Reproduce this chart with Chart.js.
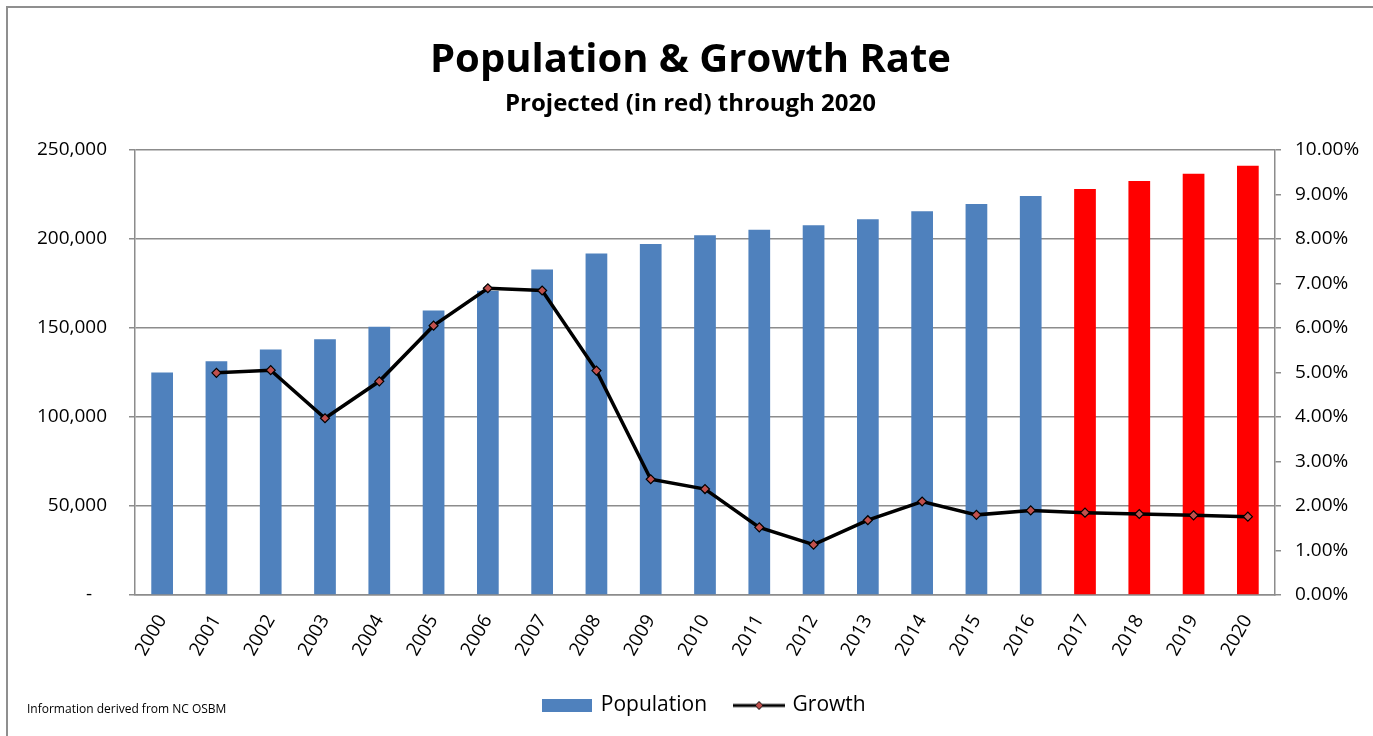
<!DOCTYPE html>
<html>
<head>
<meta charset="utf-8">
<script src="https://cdn.jsdelivr.net/npm/chart.js@4/dist/chart.umd.min.js"></script>
<style>
  html, body { margin: 0; padding: 0; background: #fff; }
  #wrap { position: relative; width: 1373px; height: 736px; overflow: hidden; }
  #frame {
    position: absolute; left: 6px; top: 6px; width: 1500px; height: 900px;
    border-top: 2px solid #8f8f8f; border-left: 2px solid #8f8f8f;
  }
  #chart { position: absolute; left: 0; top: 0; }
  #note {
    position: absolute; left: 27px; top: 700px;
    font-family: "Open Sans", sans-serif; font-size: 12px; color: #000;
  }
</style>
</head>
<body>
<div id="wrap">
  <div id="frame"></div>
  <canvas id="chart" width="1373" height="736"></canvas>
  <div id="note">Information derived from NC OSBM</div>
</div>
<script>
const years = ["2000", "2001", "2002", "2003", "2004", "2005", "2006", "2007", "2008", "2009", "2010",
  "2011", "2012", "2013", "2014", "2015", "2016", "2017", "2018", "2019", "2020"];
const population = [125000, 131200, 137900, 143600, 150700, 159700, 170800, 182800, 191800, 197100, 202000,
  205100, 207600, 211000, 215500, 219600, 224100, 228000, 232500, 236500, 241000];
const growth = [null, 4.99, 5.05, 3.97, 4.80, 6.05, 6.89, 6.84, 5.04, 2.60, 2.38,
  1.52, 1.13, 1.68, 2.10, 1.80, 1.90, 1.85, 1.82, 1.79, 1.76];
const firstProjectedYear = 2017;
const leftTicks = [0, 50000, 100000, 150000, 200000, 250000];
const rightTicks = [0, 1, 2, 3, 4, 5, 6, 7, 8, 9, 10];

const BLUE = "#4F81BD";
const RED = "#FF0000";
const MARKER = "#C0504D";
const GRID = "#8c8c8c";
const FONT = "'Open Sans', sans-serif";

const barColors = years.map((y) => (Number(y) >= firstProjectedYear ? RED : BLUE));

// legend swatches drawn on small canvases
function popSwatch() {
  const c = document.createElement("canvas");
  c.width = 50; c.height = 13;
  const g = c.getContext("2d");
  g.fillStyle = BLUE;
  g.fillRect(0, 0, 50, 13);
  return c;
}
function growthSwatch() {
  const c = document.createElement("canvas");
  c.width = 52; c.height = 14;
  const g = c.getContext("2d");
  g.strokeStyle = "#000";
  g.lineWidth = 3;
  g.beginPath(); g.moveTo(0, 7); g.lineTo(52, 7); g.stroke();
  g.fillStyle = MARKER;
  g.lineWidth = 1;
  g.beginPath();
  g.moveTo(26, 3); g.lineTo(30, 7); g.lineTo(26, 11); g.lineTo(22, 7); g.closePath();
  g.fill(); g.stroke();
  return c;
}

const ctx = document.getElementById("chart").getContext("2d");
new Chart(ctx, {
  data: {
    labels: years,
    datasets: [
      {
        type: "bar",
        label: "Population",
        data: population,
        backgroundColor: barColors,
        barPercentage: 0.4,
        categoryPercentage: 1,
        yAxisID: "y",
        order: 2,
      },
      {
        type: "line",
        label: "Growth",
        data: growth,
        borderColor: "#000",
        borderWidth: 3.5,
        pointStyle: "rectRot",
        pointRadius: 4.5,
        pointBackgroundColor: MARKER,
        pointBorderColor: "#000",
        pointBorderWidth: 1.2,
        tension: 0,
        yAxisID: "y2",
        order: 1,
      },
    ],
  },
  options: {
    responsive: false,
    animation: false,
    layout: { padding: { left: 8, right: 0, top: 0, bottom: 10 } },
    plugins: {
      title: {
        display: true,
        text: "Population & Growth Rate",
        color: "#000",
        font: { family: FONT, size: 40, weight: "bold" },
        padding: { top: 37, bottom: 1 },
      },
      subtitle: {
        display: true,
        text: "Projected (in red) through 2020",
        color: "#000",
        font: { family: FONT, size: 24, weight: "bold" },
        padding: { top: 4, bottom: 31 },
      },
      legend: {
        position: "bottom",
        fullSize: false,
        labels: {
          usePointStyle: true,
          pointStyleWidth: 46,
          padding: 29,
          color: "#000",
          font: { family: FONT, size: 21 },
          sort: (a, b) => a.datasetIndex - b.datasetIndex,
          generateLabels: (chart) => {
            const items = Chart.defaults.plugins.legend.labels.generateLabels(chart);
            items.forEach((it) => {
              it.pointStyle = it.datasetIndex === 0 ? popSwatch() : growthSwatch();
            });
            return items;
          },
        },
      },
      tooltip: { enabled: false },
    },
    scales: {
      x: {
        grid: { display: false },
        border: { display: true, color: GRID, width: 1.5 },
        ticks: {
          color: "#000",
          font: { family: FONT, size: 19 },
          maxRotation: 60,
          minRotation: 60,
          padding: 8,
        },
        afterFit: (scale) => { scale.height = 71; },
      },
      y: {
        position: "left",
        min: 0,
        max: 250000,
        afterBuildTicks: (scale) => { scale.ticks = leftTicks.map((v) => ({ value: v })); },
        grid: { color: GRID, lineWidth: 1.5, tickLength: 6 },
        border: { display: true, color: GRID, width: 1.5 },
        ticks: {
          color: "#000",
          font: { family: FONT, size: 19 },
          padding: 22,
          callback: (v) => (v === 0 ? "-   " : v.toLocaleString("en-US")),
        },
        afterFit: (scale) => { scale.width = 127; },
      },
      y2: {
        position: "right",
        min: 0,
        max: 10,
        afterBuildTicks: (scale) => { scale.ticks = rightTicks.map((v) => ({ value: v })); },
        grid: { drawOnChartArea: false, color: GRID, lineWidth: 1.5, tickLength: 6 },
        border: { display: true, color: GRID, width: 1.5 },
        ticks: {
          color: "#000",
          font: { family: FONT, size: 19 },
          padding: 14,
          callback: (v) => v.toFixed(2) + "%",
        },
        afterFit: (scale) => { scale.width = 98; },
      },
    },
  },
});
</script>
</body>
</html>
